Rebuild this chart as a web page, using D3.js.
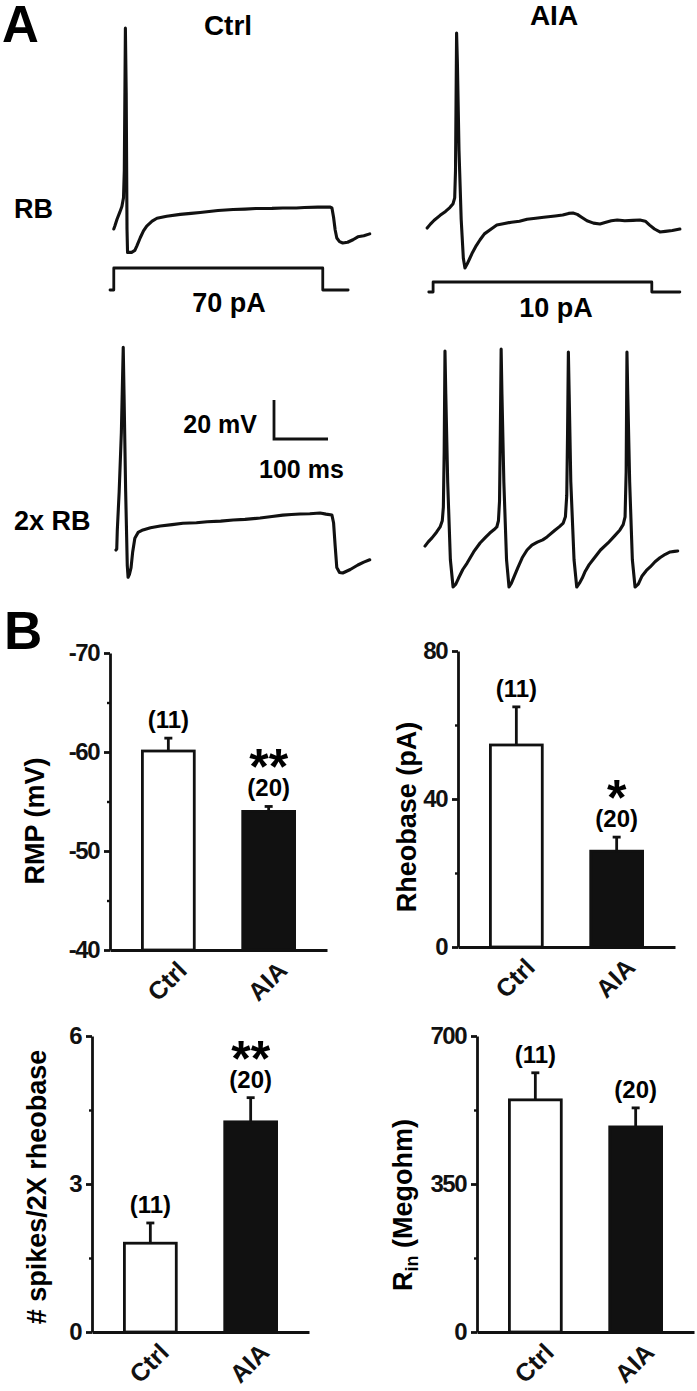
<!DOCTYPE html>
<html><head><meta charset="utf-8">
<script src="https://cdn.jsdelivr.net/npm/d3@7"></script>
<style>
body{margin:0;background:#fff;}
svg{display:block;font-family:"Liberation Sans",Arial,Helvetica,sans-serif;font-weight:bold;}
</style></head><body>
<svg id="c" width="697" height="1391"></svg>
<script>
// ---------- DATA ----------
const groups = ["Ctrl", "AIA"];
const nCells = ["(11)", "(20)"];

const rmpMean = [-60.1, -54.0];
const rmpSem = [1.3, 0.5];
const rmpSig = ["", "**"];
const rmpTicks = [-70, -60, -50, -40];
const rmpMinor = [-65, -55, -45];

const rheoMean = [54.6, 25.9];
const rheoSem = [10.3, 3.8];
const rheoSig = ["", "*"];
const rheoTicks = [0, 40, 80];
const rheoMinor = [20, 60];

const spikesMean = [1.80, 4.26];
const spikesSem = [0.41, 0.49];
const spikesSig = ["", "**"];
const spikesTicks = [0, 3, 6];
const spikesMinor = [1.5, 4.5];

const rinMean = [549, 485];
const rinSem = [64, 45];
const rinSig = ["", ""];
const rinTicks = [0, 350, 700];
const rinMinor = [175, 525];

// voltage traces: [time (ms), membrane potential (mV)]
const ctrlRB = [[7,-60],[9,-58.5],[13,-55],[18,-51.5],[22,-48.5],[25,-44],[26.5,-30],[28.5,43],[30,10],[31.5,-60],[32.5,-72],[40,-72],[46,-71],[50,-68.5],[56,-64.5],[62,-61],[68,-58.5],[78,-56],[87,-54.5],[105,-53.5],[130,-52.5],[150,-52],[167,-51.5],[200,-50.5],[228,-50],[250,-49.8],[270,-49.5],[300,-49.4],[320,-49.2],[345,-49.2],[360,-49],[385,-48.8],[407,-48.7],[411,-49.2],[414,-54],[417,-60.5],[420,-64.6],[425,-66.5],[431,-67.2],[440,-66.8],[450,-65.5],[459,-64],[470,-63.5],[481,-62.5]];
const ctrlRBStep = [[0,0],[7,0],[7,70],[394,70],[394,0],[441,0]];

const aiaRB = [[4,-59.5],[10,-57.5],[17,-55.5],[28,-53],[38,-51],[46,-49],[52,-47],[55,-44],[56.5,-30],[58.5,40.5],[60,25],[63,-20],[67,-55],[71,-75],[74,-80],[78,-78],[83,-75],[88,-72],[95,-68.5],[102,-65.5],[110,-62.5],[120,-60.5],[133,-58],[145,-57.3],[160,-56.5],[175,-56],[189,-55],[205,-54.5],[220,-54],[241,-53.3],[255,-52.8],[266,-52],[274,-51.8],[282,-52.5],[290,-54],[300,-55.8],[312,-57],[324,-57.4],[335,-56.5],[345,-55.8],[356,-55.4],[370,-55.8],[385,-55.6],[398,-55.4],[408,-56],[416,-58],[425,-60],[435,-61.5],[445,-61.2],[458,-60.8],[472,-60]];
const aiaRBStep = [[7,0],[15,0],[15,10],[420,10],[420,0],[472,0]];

const ctrl2xRB = [[11,-60],[12.5,-59.5],[13.5,-50],[17,-30],[21,0],[24.5,44],[26,20],[29,-30],[32,-68],[33.5,-74],[36,-72.5],[39,-69],[42,-61],[46,-54],[52,-51],[61,-49.7],[75,-48.6],[93,-47.7],[115,-47],[135,-46.3],[160,-46],[180,-45.5],[205,-45.2],[228,-44.6],[250,-44.3],[278,-43.6],[300,-42.8],[320,-42.1],[336,-41.8],[352,-41.5],[370,-41.4],[389,-41],[400,-41.6],[411,-42.1],[414,-46],[417,-58],[420,-69],[425,-71.5],[431,-71.8],[445,-70],[459,-67.7],[470,-66.2],[481,-65]];
const aia2xRB = [[0,-58],[6,-55.8],[13,-53.8],[21,-51],[28,-48.2],[32,-45],[34,-38],[35.5,-10],[37,42],[38.5,20],[42,-25],[47,-65],[52,-79],[57,-77.5],[62,-74.5],[70,-70],[78,-66.7],[90,-61],[102,-56.4],[112,-53.5],[120,-51.3],[128,-49.5],[133,-48.2],[136,-45],[138,-35],[139.5,0],[141,43],[142.5,20],[146,-25],[151,-65],[155.6,-79],[160,-77],[166,-73],[172,-69],[180,-64],[189,-60],[198,-57.5],[208,-56],[218,-54.8],[226,-53.3],[240,-50],[249,-48],[256,-46.2],[260,-43],[262.5,-32],[264,0],[265.5,41.5],[267,20],[270,-25],[276,-65],[281,-79],[286,-77],[291,-74.5],[296,-71.3],[304,-67.5],[311,-65],[325,-60],[339,-56.4],[352,-52.5],[361,-49.7],[367,-47],[370.5,-43],[372.5,-20],[374,41.5],[375.5,20],[379,-25],[384,-65],[389,-79],[395,-77.5],[402,-73.3],[410,-70.5],[417,-68.7],[426,-66],[435,-64],[445,-62.2],[454,-61],[462,-60.7],[468,-60.5]];

// ---------- DRAWING ----------
const svg = d3.select("#c");
const ink = "#111";

// panel letters & labels
svg.append("text").attr("x", 2).attr("y", 42).attr("font-size", 51).text("A");
svg.append("text").attr("x", 4).attr("y", 649).attr("font-size", 53).text("B");
svg.append("text").attr("x", 228).attr("y", 35).attr("text-anchor", "middle").attr("font-size", 28).text("Ctrl");
svg.append("text").attr("x", 554).attr("y", 25).attr("text-anchor", "middle").attr("font-size", 28).text("AIA");
svg.append("text").attr("x", 14).attr("y", 218).attr("font-size", 27).text("RB");
svg.append("text").attr("x", 14).attr("y", 530).attr("font-size", 27).text("2x RB");

// trace scales
const xCtrl = d3.scaleLinear().domain([0, 100]).range([110, 164]);
const xAIA = d3.scaleLinear().domain([0, 100]).range([425, 479]);
const yRow1 = d3.scaleLinear().domain([-60, -40]).range([229, 190]);
const yRow2 = d3.scaleLinear().domain([-60, -40]).range([550, 511]);
const iCtrl = d3.scaleLinear().domain([0, 70]).range([290, 268]);
const iAIA = d3.scaleLinear().domain([0, 10]).range([292, 282]);

function trace(data, xs, ys, w) {
  svg.append("path")
    .attr("d", d3.line().x(d => xs(d[0])).y(d => ys(d[1]))(data))
    .attr("fill", "none").attr("stroke", ink)
    .attr("stroke-width", w).attr("stroke-linejoin", "round").attr("stroke-linecap", "round");
}
trace(ctrlRB, xCtrl, yRow1, 3.1);
trace(aiaRB, xAIA, yRow1, 3.1);
trace(ctrl2xRB, xCtrl, yRow2, 3.1);
trace(aia2xRB, xAIA, yRow2, 3.1);
trace(ctrlRBStep, xCtrl, iCtrl, 2.8);
trace(aiaRBStep, xAIA, iAIA, 2.8);

svg.append("text").attr("x", 229).attr("y", 312).attr("text-anchor", "middle").attr("font-size", 27).text("70 pA");
svg.append("text").attr("x", 556).attr("y", 317).attr("text-anchor", "middle").attr("font-size", 27).text("10 pA");

// scale bar (20 mV, 100 ms) using row-2 scales
const sbX = 274, sbY = 439;
const sbH = yRow2(-60) - yRow2(-40);
const sbW = xCtrl(100) - xCtrl(0);
svg.append("path")
  .attr("d", `M${sbX},${sbY - sbH}V${sbY}H${sbX + sbW}`)
  .attr("fill", "none").attr("stroke", ink).attr("stroke-width", 2.8);
svg.append("text").attr("x", 257).attr("y", 433).attr("text-anchor", "end").attr("font-size", 25).text("20 mV");
svg.append("text").attr("x", 259).attr("y", 478).attr("font-size", 25).text("100 ms");

// ---------- BAR CHARTS ----------
function barChart(cfg) {
  const g = svg.append("g");
  const y = d3.scaleLinear().domain(cfg.domain).range([cfg.yBot, cfg.yTop]);
  const x = d3.scaleBand().domain(groups).range([cfg.x0, cfg.x0 + 217])
    .paddingInner(0.483).paddingOuter(0.323);
  const base = cfg.domain[0];

  // bars
  g.selectAll("rect.bar").data(groups).join("rect")
    .attr("x", d => x(d)).attr("width", x.bandwidth())
    .attr("y", (d, i) => Math.min(y(cfg.mean[i]), y(base)))
    .attr("height", (d, i) => Math.abs(y(base) - y(cfg.mean[i])))
    .attr("fill", (d, i) => i === 0 ? "#fff" : ink)
    .attr("stroke", ink).attr("stroke-width", 2.8);

  // error bars
  const dir = i => Math.sign(cfg.mean[i] - base);
  groups.forEach((gName, i) => {
    const cx = x(gName) + x.bandwidth() / 2;
    const top = cfg.mean[i] + dir(i) * cfg.sem[i];
    g.append("line").attr("x1", cx).attr("x2", cx)
      .attr("y1", y(cfg.mean[i])).attr("y2", y(top))
      .attr("stroke", ink).attr("stroke-width", 2.8);
    g.append("line").attr("x1", cx - 4).attr("x2", cx + 4)
      .attr("y1", y(top)).attr("y2", y(top))
      .attr("stroke", ink).attr("stroke-width", 2.8);
    const nb = y(top) - 10;
    g.append("text").attr("x", cx).attr("y", nb).attr("text-anchor", "middle")
      .attr("font-size", 24).text(cfg.n[i]);
    if (cfg.sig[i]) {
      g.append("text").attr("x", cx).attr("y", nb - 12).attr("text-anchor", "middle")
        .attr("font-size", 50).text(cfg.sig[i]);
    }
  });

  // y axis (major)
  const ay = g.append("g").attr("transform", `translate(${cfg.x0},0)`)
    .call(d3.axisLeft(y).tickValues(cfg.ticks).tickSize(6).tickSizeOuter(0).tickPadding(5)
      .tickFormat(d => String(d)));
  ay.select(".domain").attr("stroke", ink).attr("stroke-width", 2.8);
  ay.selectAll(".tick line").attr("stroke", ink).attr("stroke-width", 2.8);
  ay.selectAll(".tick text").attr("fill", ink).attr("font-size", 24)
    .attr("font-family", "Liberation Sans, Arial, sans-serif").attr("font-weight", "bold")
    .attr("letter-spacing", "-1.5px");
  // minor ticks
  const am = g.append("g").attr("transform", `translate(${cfg.x0},0)`)
    .call(d3.axisLeft(y).tickValues(cfg.minor).tickSize(3).tickFormat(""));
  am.select(".domain").remove();
  am.selectAll(".tick line").attr("stroke", ink).attr("stroke-width", 2.4);

  // x axis
  const ax = g.append("g").attr("transform", `translate(0,${cfg.yBot})`)
    .call(d3.axisBottom(x).tickSize(0).tickSizeOuter(0));
  ax.select(".domain").attr("stroke", ink).attr("stroke-width", 2.8);
  ax.selectAll(".tick text").attr("fill", ink).attr("font-size", 25)
    .attr("font-family", "Liberation Sans, Arial, sans-serif").attr("font-weight", "bold")
    .attr("text-anchor", "end").attr("x", 0).attr("y", 0).attr("dy", 0)
    .attr("transform", "translate(20,22) rotate(-45)");

  // y title
  const t = g.append("text").attr("font-size", 27).attr("text-anchor", "middle")
    .attr("transform", `translate(${cfg.tx},${cfg.ty}) rotate(-90)`);
  if (cfg.sub) {
    t.append("tspan").text(cfg.title);
    t.append("tspan").attr("font-size", 18).attr("dy", 6).text(cfg.sub);
    t.append("tspan").attr("dy", -6).text(cfg.title2);
  } else {
    t.text(cfg.title);
  }
}

barChart({x0: 110, yTop: 653, yBot: 950, domain: [-40, -70], ticks: rmpTicks, minor: rmpMinor,
  mean: rmpMean, sem: rmpSem, sig: rmpSig, n: nCells, title: "RMP (mV)", tx: 44, ty: 821});
barChart({x0: 458, yTop: 651, yBot: 947, domain: [0, 80], ticks: rheoTicks, minor: rheoMinor,
  mean: rheoMean, sem: rheoSem, sig: rheoSig, n: nCells, title: "Rheobase (pA)", tx: 416, ty: 817});
barChart({x0: 92, yTop: 1036, yBot: 1332, domain: [0, 6], ticks: spikesTicks, minor: spikesMinor,
  mean: spikesMean, sem: spikesSem, sig: spikesSig, n: nCells, title: "# spikes/2X rheobase", tx: 46, ty: 1187});
barChart({x0: 477, yTop: 1036, yBot: 1332, domain: [0, 700], ticks: rinTicks, minor: rinMinor,
  mean: rinMean, sem: rinSem, sig: rinSig, n: nCells, title: "R", sub: "in", title2: " (Megohm)", tx: 412, ty: 1205});
</script>
</body></html>
